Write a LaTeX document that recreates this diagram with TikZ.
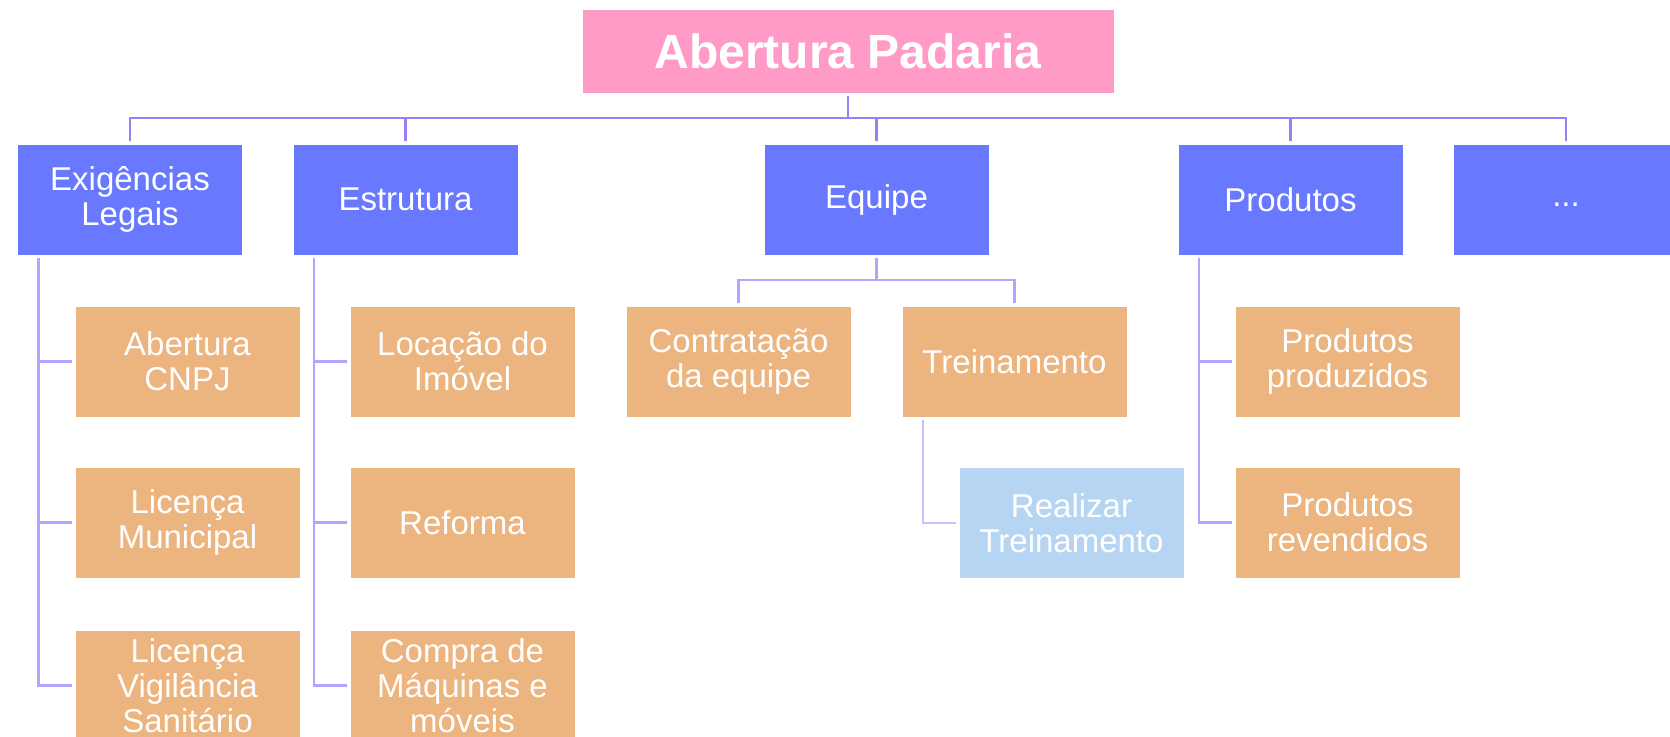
\documentclass[tikz,border=0pt]{standalone}
\usepackage{fontspec}
\setmainfont{Liberation Sans}
\definecolor{titlepink}{RGB}{255,155,198}
\definecolor{areablue}{RGB}{104,121,255}
\definecolor{taskorange}{RGB}{236,180,127}
\definecolor{subtaskblue}{RGB}{181,213,242}
\definecolor{linetop}{RGB}{155,126,246}
\definecolor{linesub}{RGB}{179,164,255}
\definecolor{linesubsub}{RGB}{200,191,255}

\begin{document}
\begin{tikzpicture}[x=0.5pt, y=-0.5pt,
  box/.style={rectangle, draw=white, line width=0.4pt, text=white, align=center,
    minimum width=112.5pt, minimum height=55.5pt, inner sep=0pt, outer sep=1.5pt,
    font=\fontsize{16.5}{17.5}\selectfont},
  area/.style={box, fill=areablue},
  task/.style={box, fill=taskorange},
  subtask/.style={box, fill=subtaskblue},
  topline/.style={draw=linetop, line width=1.4pt},
  subline/.style={draw=linesub, line width=1.4pt}]
  \path[use as bounding box] (0,0) rectangle (1670,737);
  \clip (0,0) rectangle (1670,737);

  %% top of the tree
  \node[box, fill=titlepink, minimum width=266pt, minimum height=42pt,
    font=\bfseries\fontsize{24}{28}\selectfont] (padaria) at (848,51) {Abertura Padaria};

  %% areas
  \node[area] (legais) at (130,199.5) {Exigências\\Legais};
  \node[area] (estrutura) at (405.5,199.5) {Estrutura};
  \node[area] (equipe) at (876.5,199.5) {Equipe};
  \node[area] (produtos) at (1290.5,199.5) {Produtos};
  \node[area] (outros) at (1566,199.5) {\strut...};

  %% tasks
  \node[task] (cnpj) at (187.5,361.5) {Abertura\\CNPJ};
  \node[task] (municipal) at (187.5,522.5) {Licença\\Municipal};
  \node[task] (vigilancia) at (187.5,685.5) {Licença\\Vigilância\\Sanitário};
  \node[task] (locacao) at (462.5,361.5) {Locação do\\Imóvel};
  \node[task] (reforma) at (462.5,522.5) {Reforma};
  \node[task] (maquinas) at (462.5,685.5) {Compra de\\Máquinas e\\móveis};
  \node[task] (contratacao) at (738.5,361.5) {Contratação\\da equipe};
  \node[task] (treinamento) at (1014.5,361.5) {Treinamento};
  \node[subtask] (realizar) at (1071.5,523) {Realizar\\Treinamento};
  \node[task] (produzidos) at (1347.5,361.5) {Produtos\\produzidos};
  \node[task] (revendidos) at (1347.5,522.5) {Produtos\\revendidos};

  %% connectors
  \coordinate (hub) at (848,118);
  \draw[topline] (padaria) -- (hub);
  \foreach \n in {legais,estrutura,equipe,produtos,outros}
    \draw[topline] (hub) -| (\n);

  \foreach \p/\c in {legais/cnpj, legais/municipal, legais/vigilancia,
      estrutura/locacao, estrutura/reforma, estrutura/maquinas,
      produtos/produzidos, produtos/revendidos}
    \draw[subline] ([xshift=12pt]\p.south west) |- (\c);

  \coordinate (equipe-hub) at (876.5,280);
  \draw[subline] (equipe) -- (equipe-hub);
  \foreach \c in {contratacao,treinamento}
    \draw[subline] (equipe-hub) -| (\c);
  \draw[subline, draw=linesubsub] ([xshift=12pt]treinamento.south west) |- (realizar);
\end{tikzpicture}
\end{document}
